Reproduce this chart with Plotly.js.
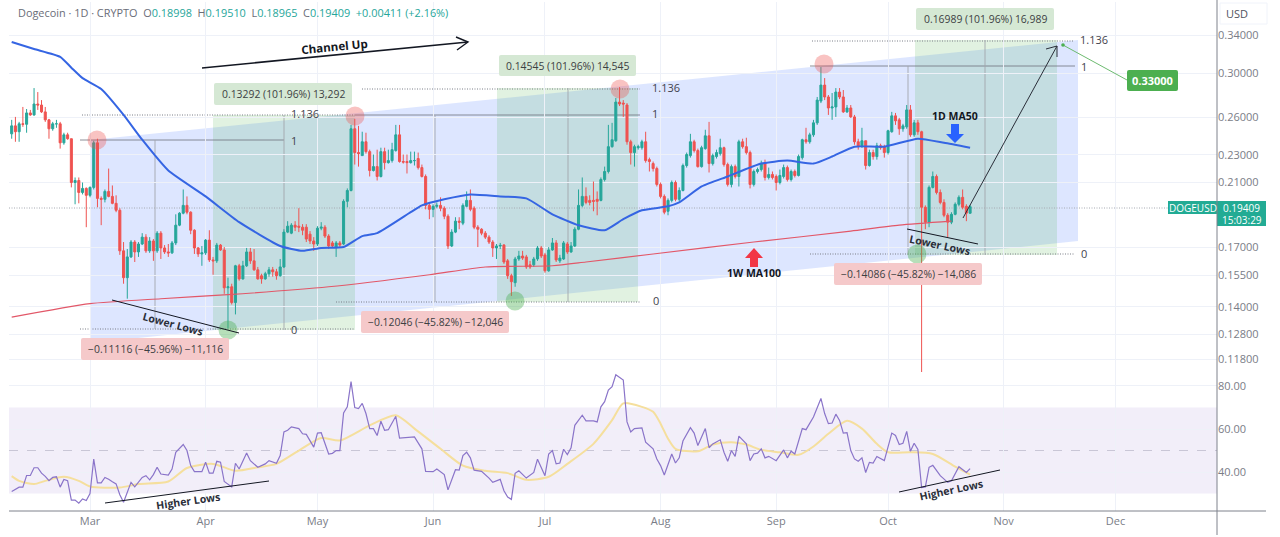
<!DOCTYPE html>
<html><head><meta charset="utf-8">
<script src="https://cdn.plot.ly/plotly-3.0.1.min.js"></script>
<style>html,body{margin:0;padding:0;background:#fff}#c{width:1280px;height:537px}</style>
</head><body><div id="c"></div>
<script>
const firstDay='2025-02-08';
const opens=[.2462,.2527,.2479,.2544,.2540,.2636,.2619,.2714,.2705,.2645,.2577,.2503,.2544,.2544,.2391,.2454,.2423,.2100,.2114,.2033,.2060,.2014,.2067,.2391,.1994,.1988,.2040,.2007,.1962,.1918,.1680,.1539,.1647,.1729,.1674,.1718,.1757,.1680,.1735,.1680,.1780,.1696,.1674,.1669,.1724,.1827,.1900,.1949,.1906,.1797,.1696,.1663,.1669,.1740,.1631,.1626,.1712,.1685,.1489,.1494,.1419,.1600,.1533,.1600,.1674,.1626,.1579,.1549,.1533,.1559,.1579,.1569,.1549,.1594,.1786,.1780,.1827,.1821,.1815,.1815,.1774,.1735,.1718,.1809,.1815,.1763,.1724,.1701,.1724,.1718,.1975,.2046,.2503,.2316,.2293,.2399,.2323,.2184,.2212,.2142,.2323,.2241,.2256,.2331,.2454,.2249,.2249,.2241,.2256,.2271,.2205,.2142,.1949,.1924,.1943,.1949,.1931,.1881,.1707,.1786,.1851,.1839,.1943,.1981,.1931,.1815,.1803,.1780,.1757,.1729,.1696,.1707,.1712,.1626,.1549,.1514,.1636,.1652,.1647,.1605,.1605,.1636,.1696,.1658,.1574,.1685,.1724,.1626,.1636,.1718,.1674,.1707,.1803,.1949,.2007,.1981,.1981,.1988,.1981,.2121,.2177,.2361,.2407,.2731,.2722,.2705,.2399,.2316,.2353,.2353,.2399,.2263,.2234,.2198,.2087,.2007,.1912,.1981,.2100,.1988,.2046,.2220,.2293,.2399,.2331,.2212,.2346,.2446,.2234,.2286,.2308,.2353,.2227,.2087,.2212,.2142,.2399,.2361,.2316,.2087,.2177,.2191,.2241,.2135,.2156,.2142,.2100,.2142,.2205,.2121,.2177,.2149,.2278,.2415,.2399,.2454,.2552,.2740,.2887,.2777,.2679,.2688,.2822,.2777,.2645,.2679,.2602,.2399,.2361,.2407,.2220,.2316,.2286,.2368,.2361,.2316,.2479,.2611,.2577,.2503,.2519,.2662,.2454,.2552,.2479,.1937,.1845,.2067,.2142,.2033,.1968,.1887,.1845,.1893,.1956,.2001,.1943,.18998];
const closes=[.2527,.2479,.2544,.2540,.2636,.2619,.2714,.2705,.2645,.2577,.2503,.2544,.2544,.2391,.2454,.2423,.2100,.2114,.2033,.2060,.2014,.2067,.2391,.1994,.1988,.2040,.2007,.1962,.1918,.1680,.1539,.1647,.1729,.1674,.1718,.1757,.1680,.1735,.1680,.1780,.1696,.1674,.1669,.1724,.1827,.1900,.1949,.1906,.1797,.1696,.1663,.1669,.1740,.1631,.1626,.1712,.1685,.1489,.1494,.1419,.1600,.1533,.1600,.1674,.1626,.1579,.1533,.1533,.1559,.1579,.1569,.1549,.1594,.1786,.1821,.1827,.1815,.1815,.1797,.1746,.1735,.1718,.1809,.1815,.1763,.1707,.1707,.1724,.1712,.1975,.2046,.2503,.2316,.2308,.2399,.2323,.2184,.2212,.2142,.2323,.2241,.2256,.2338,.2454,.2249,.2245,.2241,.2256,.2256,.2205,.2142,.1949,.1924,.1943,.1949,.1931,.1881,.1707,.1786,.1851,.1845,.1949,.1981,.1924,.1815,.1803,.1780,.1757,.1729,.1696,.1707,.1710,.1620,.1549,.1519,.1636,.1652,.1641,.1594,.1594,.1636,.1696,.1652,.1574,.1685,.1724,.1631,.1641,.1724,.1674,.1707,.1803,.1949,.2007,.1968,.1968,.1975,.1975,.2121,.2177,.2361,.2415,.2731,.2714,.2714,.2399,.2316,.2361,.2361,.2399,.2256,.2249,.2198,.2087,.2007,.1906,.1981,.2100,.1988,.2046,.2220,.2301,.2399,.2331,.2212,.2353,.2446,.2234,.2293,.2316,.2353,.2227,.2087,.2212,.2142,.2399,.2361,.2316,.2087,.2177,.2191,.2234,.2135,.2156,.2135,.2100,.2149,.2205,.2121,.2177,.2149,.2286,.2415,.2399,.2454,.2552,.2749,.2887,.2777,.2679,.2688,.2822,.2777,.2645,.2679,.2602,.2399,.2361,.2407,.2220,.2316,.2286,.2368,.2353,.2316,.2487,.2611,.2569,.2503,.2527,.2662,.2454,.2552,.2479,.1937,.1845,.2067,.2142,.2033,.1968,.1887,.1845,.1893,.1956,.2001,.1937,.1900,.19409];
const highs=[.2577,.2602,.2560,.2688,.2670,.2662,.2859,.2822,.2749,.2688,.2585,.2560,.2577,.2560,.2471,.2471,.2423,.2135,.2135,.2100,.2067,.2073,.2407,.2423,.2007,.2053,.2198,.2080,.2014,.1931,.1729,.1690,.1740,.1740,.1729,.1780,.1774,.1757,.1746,.1792,.1792,.1712,.1718,.1735,.1893,.1906,.2053,.2007,.1912,.1803,.1701,.1707,.1746,.1797,.1647,.1724,.1718,.1701,.1539,.1509,.1605,.1610,.1626,.1696,.1696,.1690,.1594,.1559,.1569,.1594,.1594,.1584,.1636,.1803,.1851,.1839,.1851,.1931,.1833,.1833,.1792,.1757,.1821,.1845,.1827,.1774,.1735,.1735,.1735,.1988,.2060,.2535,.2585,.2527,.2479,.2471,.2338,.2301,.2338,.2353,.2353,.2338,.2391,.2535,.2535,.2301,.2301,.2323,.2323,.2316,.2227,.2156,.1962,.1956,.1968,.2001,.1943,.1893,.1803,.1875,.1875,.1962,.2040,.2053,.1943,.1827,.1809,.1792,.1768,.1740,.1718,.1724,.1718,.1636,.1559,.1647,.1680,.1680,.1658,.1626,.1647,.1707,.1707,.1669,.1701,.1752,.1740,.1658,.1735,.1729,.1729,.1815,.2053,.2135,.2067,.2014,.2107,.2040,.2135,.2212,.2535,.2552,.2768,.2868,.2749,.2722,.2415,.2376,.2376,.2415,.2479,.2278,.2249,.2212,.2100,.2020,.1994,.2114,.2114,.2067,.2234,.2316,.2462,.2415,.2346,.2368,.2495,.2560,.2308,.2338,.2423,.2361,.2241,.2227,.2227,.2415,.2423,.2431,.2331,.2191,.2205,.2256,.2263,.2205,.2177,.2156,.2191,.2227,.2220,.2191,.2191,.2301,.2423,.2511,.2471,.2577,.2777,.3062,.2954,.2795,.2813,.2859,.2859,.2841,.2705,.2705,.2619,.2423,.2511,.2407,.2338,.2338,.2391,.2384,.2376,.2495,.2645,.2636,.2594,.2544,.2705,.2705,.2577,.2577,.2487,.1949,.2080,.2177,.2156,.2053,.1988,.1900,.1906,.1968,.2014,.2053,.1956,.1951];
const lows=[.2423,.2399,.2399,.2519,.2471,.2611,.2611,.2662,.2636,.2560,.2423,.2487,.2511,.2346,.2376,.2415,.2067,.1956,.1962,.2020,.1815,.2001,.2053,.1937,.1827,.1968,.2001,.1956,.1906,.1658,.1509,.1437,.1641,.1620,.1647,.1712,.1669,.1669,.1626,.1669,.1636,.1663,.1647,.1663,.1712,.1821,.1893,.1893,.1774,.1663,.1647,.1600,.1658,.1620,.1554,.1615,.1680,.1460,.1304,.1410,.1365,.1524,.1529,.1594,.1610,.1574,.1529,.1509,.1529,.1544,.1544,.1529,.1544,.1589,.1780,.1774,.1792,.1786,.1768,.1729,.1718,.1680,.1707,.1797,.1752,.1690,.1696,.1647,.1701,.1712,.1937,.2040,.2227,.2212,.2293,.2308,.2142,.2177,.2114,.2135,.2191,.2234,.2241,.2323,.2241,.2234,.2163,.2234,.2220,.2191,.2135,.1924,.1863,.1875,.1931,.1912,.1863,.1690,.1701,.1780,.1803,.1827,.1937,.1912,.1803,.1701,.1768,.1746,.1718,.1647,.1636,.1690,.1610,.1533,.1450,.1494,.1626,.1631,.1584,.1584,.1594,.1626,.1641,.1564,.1569,.1680,.1620,.1615,.1631,.1663,.1669,.1701,.1797,.1937,.1956,.1949,.1912,.1887,.1975,.2107,.2163,.2353,.2399,.2696,.2602,.2376,.2227,.2212,.2338,.2338,.2241,.2177,.2177,.2073,.1994,.1893,.1887,.1968,.1975,.1975,.2040,.2205,.2278,.2316,.2205,.2205,.2338,.2170,.2220,.2271,.2293,.2212,.2073,.2067,.2128,.2073,.2346,.2301,.2060,.2073,.2163,.2177,.2114,.2121,.2121,.2046,.2087,.2128,.2107,.2107,.2135,.2142,.2263,.2384,.2384,.2438,.2535,.2722,.2749,.2619,.2577,.2602,.2758,.2636,.2636,.2594,.2376,.2338,.2353,.2191,.2212,.2263,.2263,.2338,.2278,.2301,.2471,.2535,.2454,.2479,.2503,.2438,.2438,.2454,.1131,.1803,.1815,.2060,.2020,.1956,.1875,.1757,.1833,.1887,.1943,.1924,.1851,.18965];
const ma50Idx=[0,6,13,16,19,24,30,35,42,52,61,72,78,83,89,94,98,107,110,116,123,131,138,145,152,159,164,169,176,179,185,192,201,208,215,220,226,234,243,250,257];
const ma50Vals=[.3323,.3248,.3166,.3056,.2953,.2850,.2619,.2415,.2184,.2007,.1845,.1707,.1680,.1696,.1701,.1763,.1780,.1906,.1949,.1988,.2020,.2007,.1994,.1893,.1827,.1797,.1863,.1918,.1943,.1968,.2073,.2142,.2234,.2256,.2234,.2286,.2361,.2361,.2423,.2391,.2353];
const ma100Idx=[0,21,40,58,85,112,127,145,154,172,199,225,238,252];
const ma100Vals=[.1353,.1414,.1437,.1456,.1494,.1554,.1594,.1600,.1620,.1663,.1729,.1792,.1827,.1851];
const rsiIdx=[0,1,2,3,4,5,6,7,8,9,10,11,12,13,14,15,16,17,18,19,20,21,22,23,24,25,26,27,28,29,30,32,33,35,36,37,38,39,40,42,43,44,46,47,48,49,51,52,53,54,55,56,57,59,60,61,63,64,66,68,69,71,72,73,74,75,77,78,79,81,82,83,84,85,86,87,88,89,90,91,92,93,94,95,96,97,98,99,100,101,103,104,108,110,111,113,114,116,117,119,120,121,122,123,124,126,128,129,131,132,133,134,135,136,138,140,141,143,144,145,146,147,148,149,150,151,153,154,156,157,158,159,160,161,162,164,165,166,167,169,170,172,173,174,175,177,178,179,180,182,183,184,186,187,188,190,191,192,193,194,195,197,198,199,200,201,202,203,205,207,208,209,210,212,213,215,217,218,219,220,221,222,223,224,225,226,227,228,229,230,231,232,234,236,237,238,239,240,241,242,243,244,245,246,247,249,251,252,254,256,257];
const rsiVals=[31,32,33,33,38.4,38.4,42,42,39.5,38,36,37.5,37.8,33,36.6,36,27,27,25.5,27.5,26.8,30,46,35,35,37.5,36.7,35.5,34.5,29.5,26,35.2,33.1,37.5,38.3,36.4,38.8,42.2,39.1,38.6,41.4,49.2,52.8,50,43,40.2,40.2,44.6,39.5,39.5,45,44.6,35.6,33.1,44.1,41.4,48.9,45.3,42.2,43.8,45.3,44.1,47.7,58.7,59.4,61,60.2,57.8,57.5,51.6,58.1,58.3,53.1,48.4,48.7,50,50,67.5,70.3,82,70,69.5,71.9,67.2,60.2,60.2,57,63.6,59.4,59.7,65.9,55.8,56.3,50.8,40.3,40.2,41.4,38.8,31.7,41.1,40.9,47.7,49.2,46.6,40.9,40.3,37.2,35.2,36.6,31.3,28.4,27.3,39.4,40.6,37.2,39.8,46,38.3,48.4,50,43.8,44.2,50.6,48.1,51.3,61.7,66.4,63.8,63.8,63.3,70.3,72.7,78.1,79.7,85.2,82.8,63.3,58.6,60.2,60.5,53.9,50.8,46.1,43,38.6,48.4,44.2,46.6,54.4,60.6,58.1,52.3,60.2,51.3,53.1,55,49.2,45,50,47.3,56.7,53.1,45.3,48.4,48.8,50.8,46.6,47.3,45.3,50.3,46.6,49.7,48.4,60.2,59.7,65.6,74.2,67.2,62.5,62.8,66.9,64,58.1,58.3,50,46.1,45,46.6,39.8,44.5,44.2,47.2,45.3,58.1,57,52.8,53.4,58.9,49.7,53.4,50.5,32.8,33.1,42.2,43.1,38.3,35.2,35.9,42.5,39.8,41.6];
const rsiMaIdx=[0,2,6,9,14,18,21,29,34,42,47,54,60,66,71,77,83,88,96,103,108,115,121,127,133,138,144,149,156,161,164,169,172,174,176,178,184,188,193,197,201,206,211,215,219,224,228,232,235,241,247,253,257];
const rsiMaVals=[38.1,35.9,34.4,35.9,37.8,35.9,33.3,32.8,34.4,35.6,41.9,43.8,40.6,42.2,43.8,50,55.8,54.7,61.7,66.4,60.2,50.8,43,40.6,39.5,36.4,37.8,43.8,53.1,64.1,71.9,70.3,68,62.5,55.5,50.8,49.7,52.8,53.9,52.8,50.3,49.2,48,51.9,57.8,63.8,60.2,53.1,49.2,49.2,48.4,42.5,38.8];
const priceTicks=[0.34,0.30,0.26,0.23,0.21,0.17,0.155,0.14,0.128,0.118];
const rsiTicks=[40,60,80];
const monthDates=['2025-03-01','2025-04-01','2025-05-01','2025-06-01','2025-07-01','2025-08-01','2025-09-01','2025-10-01','2025-11-01','2025-12-01'];
const monthNames=['Mar','Apr','May','Jun','Jul','Aug','Sep','Oct','Nov','Dec'];

const dates=closes.map((_,i)=>{const d=new Date(firstDay+'T00:00:00Z');d.setUTCDate(d.getUTCDate()+i);return d.toISOString().slice(0,10);});
const at=a=>a.map(i=>dates[i]);

// frame of the picture and pixel helpers for the hand-drawn overlays
const W=1280,H=537,L=9,R=63,T=2,B=26;
const PW=W-L-R,PH=H-T-B,split=372;
const X=p=>(p-L)/PW, Y=p=>1-(p-T)/PH;
const F='"Open Sans","Noto Sans",sans-serif';
const shapes=[],ann=[];
const rect=(x0,y0,x1,y1,fill,layer)=>shapes.push({type:'rect',xref:'paper',yref:'paper',x0:X(x0),x1:X(x1),y0:Y(y0),y1:Y(y1),fillcolor:fill,line:{width:0},layer:layer||'below'});
const line=(x0,y0,x1,y1,c,w,dash,layer)=>shapes.push({type:'line',xref:'paper',yref:'paper',x0:X(x0),x1:X(x1),y0:Y(y0),y1:Y(y1),line:{color:c,width:w,dash:dash||'solid'},layer:layer||'above'});
const poly=(pts,fill,stroke,w,layer,closed)=>shapes.push({type:'path',xref:'paper',yref:'paper',path:pts.map((p,i)=>(i?'L':'M')+X(p[0])+','+Y(p[1])).join(' ')+(closed===false?'':' Z'),fillcolor:fill||'rgba(0,0,0,0)',line:{color:stroke||'rgba(0,0,0,0)',width:w||0},layer:layer||'above'});
const circle=(x,y,r,fill)=>shapes.push({type:'circle',xref:'paper',yref:'paper',x0:X(x-r),x1:X(x+r),y0:Y(y-r),y1:Y(y+r),fillcolor:fill,line:{width:0},layer:'above'});
const text=(x,y,t,o)=>ann.push(Object.assign({xref:'paper',yref:'paper',x:X(x),y:Y(y),text:t,showarrow:false,xanchor:'center',yanchor:'middle',font:{family:F,size:11,color:'#434651'}},o||{}));
const pill=(x0,y0,x1,y1,fill,t,fc,size)=>{
  const r=2;
  shapes.push({type:'path',xref:'paper',yref:'paper',fillcolor:fill,line:{width:0},layer:'above',
    path:`M${X(x0+r)},${Y(y0)} L${X(x1-r)},${Y(y0)} Q${X(x1)},${Y(y0)} ${X(x1)},${Y(y0+r)} L${X(x1)},${Y(y1-r)} Q${X(x1)},${Y(y1)} ${X(x1-r)},${Y(y1)} L${X(x0+r)},${Y(y1)} Q${X(x0)},${Y(y1)} ${X(x0)},${Y(y1-r)} L${X(x0)},${Y(y0+r)} Q${X(x0)},${Y(y0)} ${X(x0+r)},${Y(y0)} Z`});
  text((x0+x1)/2,(y0+y1)/2,t,{font:{family:F,size:size||10.4,color:fc}});
};

// RSI band and 50 line
rect(L,407.5,1217,493.5,'rgba(126,87,194,0.10)');
line(L,450.5,1217,450.5,'#c9c6d6',1,'dash','below');

// rising channel
poly([[90,140],[1078,40],[1078,241],[90,343]],'rgba(41,98,255,0.16)',null,0,'below');
// projection boxes
const greenBox='rgba(76,175,80,0.17)';
rect(213,115,355,330,greenBox);rect(497,88,638,302,greenBox);rect(915,40,1057,255,greenBox);

// fib levels
const gray='#7b7e87';
const fine='1px,1.5px';
[[82,355,115],[80,355,329],[362,640,89],[336,640,302],[812,1073,41],[810,1075,254]].forEach(a=>line(a[0],a[2],a[1],a[2],gray,1,fine,'below'));
[[80,284,140],[355,640,115],[810,1075,66]].forEach(a=>line(a[0],a[2],a[1],a[2],'#6f727c',0.8,'solid','below'));
// measuring verticals
[[155,140,329],[284,115,330],[435,115,302],[568,88,302],[908,66,255],[985,40,255]].forEach(a=>line(a[0],a[1],a[0],a[2],'#a3a6ad',0.9,'solid','below'));
[[305,114,'1.136'],[294,140,'1'],[294,329,'0'],[666,88,'1.136'],[655,114,'1'],[656,300,'0'],[1094,39,'1.136'],[1084,66,'1'],[1084,254,'0']].forEach(a=>text(a[0],a[1],a[2],{font:{family:F,size:11,color:'#3f424c'}}));
// last price line
line(L,208,1168,208,'#a6aab2',1,fine,'below');

// pivots
[[97,140],[355,116],[620,89],[824,64]].forEach(p=>circle(p[0],p[1],9.5,'rgba(239,83,80,0.35)'));
[[228,330],[515,301],[917,254]].forEach(p=>circle(p[0],p[1],9.5,'rgba(76,175,80,0.40)'));

// measure labels
pill(214,83,352,105,'#d5e8d4','0.13292 (101.96%) 13,292','#3c4043');
pill(499,55,636,76,'#d5e8d4','0.14545 (101.96%) 14,545','#3c4043');
pill(916,8,1054,30,'#d5e8d4','0.16989 (101.96%) 16,989','#3c4043');
pill(81,338,229,360,'#f5c9ca','−0.11116 (−45.96%) −11,116','#3c4043');
pill(361,311,509,333,'#f5c9ca','−0.12046 (−45.82%) −12,046','#3c4043');
pill(834,263,982,285,'#f5c9ca','−0.14086 (−45.82%) −14,086','#3c4043');

// hand-drawn notes
const ink='#131722';
line(202,68,468,42,ink,1.6);
poly([[456,37],[468,42],[457,50]],null,ink,1.4,'above',false);
text(334,46,'<b>Channel Up</b>',{textangle:-5.5,font:{family:F,size:11.6,color:ink}});
line(112,300,239,333,ink,1);
text(173,324,'<b>Lower Lows</b>',{textangle:15,font:{family:F,size:10.5,color:'#2a2e39'}});
line(907,229,978,244,ink,1);
text(940,245,'<b>Lower Lows</b>',{textangle:12,font:{family:F,size:10.5,color:'#2a2e39'}});
line(105,503,269,481,ink,1);
text(188,501,'<b>Higher Lows</b>',{textangle:-8,font:{family:F,size:10.5,color:'#2a2e39'}});
line(899,492,1000,470,ink,1);
text(951,490,'<b>Higher Lows</b>',{textangle:-12,font:{family:F,size:10.5,color:'#2a2e39'}});
text(754,273,'<b>1W MA100</b>',{font:{family:F,size:10.5,color:ink}});
poly([[754,248],[763,258],[758,258],[758,267],[750,267],[750,258],[745,258]],'#f23645');
text(955,116,'<b>1D MA50</b>',{font:{family:F,size:10.5,color:ink}});
poly([[951,124],[959,124],[959,134],[964,134],[955,143],[946,134],[951,134]],'#2962ff');
line(963,218,1057,46,'#2a2e39',1);
poly([[1046,49],[1057,46],[1057,57]],null,'#2a2e39',1,'above',false);
line(1063,45,1127,80,'#6dbb70',1);
circle(1063,45,1.8,'#4caf50');
pill(1127,70,1178,91,'#4caf50','<b>0.33000</b>','#ffffff',11);

// price flags
rect(1168,201,1217,214,'#22ab94','above');
text(1192.5,207.5,'DOGEUSD',{font:{family:F,size:10,color:'#ffffff'}});
rect(1217,201,1266,226,'#22ab94','above');
text(1241.5,207.5,'0.19409',{font:{family:F,size:10,color:'#ffffff'}});
text(1241.5,220,'15:03:29',{font:{family:F,size:10,color:'#ffffff'}});

// USD chip and frame
poly([[1220,3],[1267,3],[1267,24],[1220,24]],'#ffffff','#f0f3fa',1);
text(1237,13.5,'USD',{font:{family:F,size:11,color:'#50535e'}});
line(1217,0,1217,535,'#7f828c',1);
line(L,511,1266,511,'#7f828c',1);

// header legend
const V=s=>`<span style="color:#26a69a">${s}</span>`;
text(16,13,`Dogecoin · 1D · CRYPTO  O${V('0.18998')}  H${V('0.19510')}  L${V('0.18965')}  C${V('0.19409')}  ${V('+0.00411 (+2.16%)')}`,{xanchor:'left',font:{family:F,size:10.9,color:'#6a6d78'}});

const traces=[
 {type:'candlestick',x:dates,open:opens,high:highs,low:lows,close:closes,xaxis:'x',yaxis:'y',whiskerwidth:0,
  increasing:{line:{color:'#26a69a',width:1},fillcolor:'#26a69a'},decreasing:{line:{color:'#ef5350',width:1},fillcolor:'#ef5350'},showlegend:false,hoverinfo:'skip'},
 {type:'scatter',mode:'lines',x:at(ma50Idx),y:ma50Vals,xaxis:'x',yaxis:'y',line:{color:'#3565e3',width:2,shape:'spline',smoothing:.5},showlegend:false,hoverinfo:'skip'},
 {type:'scatter',mode:'lines',x:at(ma100Idx),y:ma100Vals,xaxis:'x',yaxis:'y',line:{color:'#e25768',width:1.1,shape:'spline',smoothing:.6},showlegend:false,hoverinfo:'skip'},
 {type:'scatter',mode:'lines',x:at(rsiMaIdx),y:rsiMaVals,xaxis:'x',yaxis:'y2',line:{color:'#f5df9d',width:2,shape:'spline',smoothing:.7},showlegend:false,hoverinfo:'skip'},
 {type:'scatter',mode:'lines',x:at(rsiIdx),y:rsiVals,xaxis:'x',yaxis:'y2',line:{color:'#8a74c9',width:1.2},showlegend:false,hoverinfo:'skip'}
];
const splitFrac=1-(split-T)/PH;
const tickFont={family:F,size:11,color:'#7a7d87'};
const layout={
 width:W,height:H,autosize:false,paper_bgcolor:'#ffffff',plot_bgcolor:'#ffffff',showlegend:false,
 margin:{l:L,r:R,t:T,b:B,pad:0},boxgap:0.22,
 xaxis:{type:'date',range:['2025-02-07 06:43','2025-12-28 05:00'],tickmode:'array',tickvals:monthDates,ticktext:monthNames,anchor:'y2',
   showgrid:true,gridcolor:'#eef1f8',gridwidth:1,zeroline:false,showline:false,ticks:'',rangeslider:{visible:false},tickfont:tickFont,ticklabelstandoff:2,fixedrange:true},
 yaxis:{type:'log',domain:[splitFrac,1],range:[Math.log10(0.1131),Math.log10(0.3787)],side:'right',tickmode:'array',tickvals:priceTicks,ticktext:priceTicks.map(v=>v.toFixed(5)),
   showgrid:true,gridcolor:'#eef1f8',gridwidth:1,zeroline:false,showline:false,ticks:'',tickfont:tickFont,anchor:'x',fixedrange:true},
 yaxis2:{domain:[0,splitFrac],range:[21.9,86.5],side:'right',tickmode:'array',tickvals:rsiTicks,ticktext:rsiTicks.map(v=>v.toFixed(2)),
   showgrid:true,gridcolor:'#eef1f8',gridwidth:1,zeroline:false,showline:false,ticks:'',tickfont:tickFont,anchor:'x',fixedrange:true},
 shapes:shapes,annotations:ann
};
Plotly.newPlot('c',traces,layout,{staticPlot:true,displayModeBar:false});
</script></body></html>
